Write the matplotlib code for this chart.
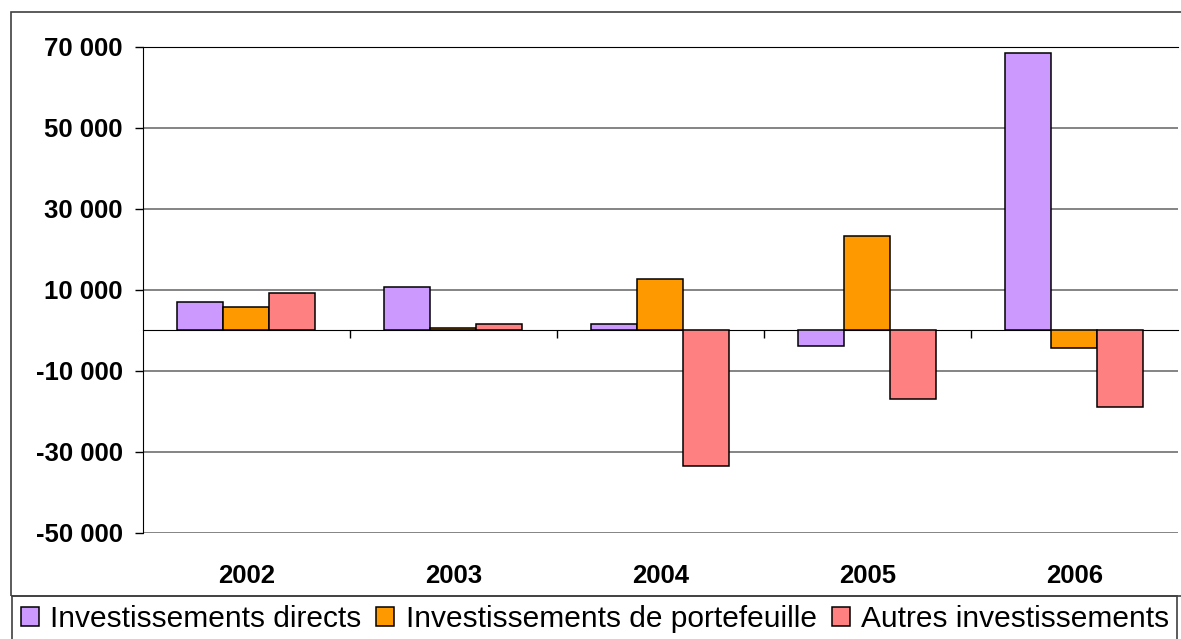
import matplotlib
matplotlib.use("Agg")
import matplotlib.pyplot as plt
import numpy as np
from matplotlib.patches import Rectangle
from matplotlib.ticker import FixedLocator, FuncFormatter

# Données
annees = ["2002", "2003", "2004", "2005", "2006"]
directs = [6900, 10800, 1600, -3900, 68400]
portefeuille = [5800, 700, 12800, 23200, -4300]
autres = [9200, 1600, -33500, -17000, -18900]
series = ["Investissements directs", "Investissements de portefeuille",
          "Autres investissements"]
couleurs = ["#CC99FF", "#FF9900", "#FF8080"]
graduations = [-50000, -30000, -10000, 10000, 30000, 50000, 70000]

plt.rcParams['font.family'] = ['Liberation Sans', 'DejaVu Sans']

fig = plt.figure(figsize=(11.81, 6.39), dpi=100)
ax = fig.add_axes([142.7 / 1181, 1 - 533 / 639, 1035 / 1181, 486.3 / 639])

x = np.arange(len(annees))
largeur = 1 / 4.5
for k, (valeurs, nom, coul) in enumerate(zip([directs, portefeuille, autres],
                                             series, couleurs)):
    ax.bar(x + (k - 1) * largeur, valeurs, largeur, color=coul,
           edgecolor="black", linewidth=1.1, label=nom, zorder=3)

ax.set_xlim(-0.5, len(annees) - 0.5)
ax.set_ylim(-50000, 70000)

# Axe des ordonnées
ax.yaxis.set_major_locator(FixedLocator(graduations))
ax.yaxis.set_major_formatter(FuncFormatter(lambda v, p: f"{v:,.0f}".replace(",", " ")))
ax.tick_params(axis="y", direction="out", length=6, width=1, pad=8.5,
               labelsize=18.5)
for lab in ax.get_yticklabels():
    lab.set_fontweight("bold")
ax.grid(axis="y", color="#707070", linewidth=1.2, zorder=0)

# Axe des abscisses à zéro, graduations entre les catégories
ax.spines["bottom"].set_position(("data", 0))
ax.spines["right"].set_visible(False)
ax.spines["top"].set_color("black")
ax.set_xticks(x[:-1] + 0.5)
ax.set_xticklabels([])
ax.tick_params(axis="x", direction="out", length=6, width=1)
for i, an in enumerate(annees):
    ax.text(i, -0.088, an, transform=ax.get_xaxis_transform(), ha="center",
            va="center", fontsize=18.5, fontweight="bold")

# Cadres
fig.patches.append(Rectangle((11 / 1181, 1 - 596 / 639), 1.2, 584 / 639,
                             transform=fig.transFigure, fill=False,
                             edgecolor="#404040", linewidth=1.2))
fig.patches.append(Rectangle((12 / 1181, -0.1), 1165 / 1181, 0.1 + 43 / 639,
                             transform=fig.transFigure, fill=False,
                             edgecolor="#404040", linewidth=1.2))

fig.legend(loc="center left", bbox_to_anchor=(21 / 1181, 1 - 619 / 639),
           ncol=3, frameon=False, fontsize=21.5, handlelength=0.6,
           handleheight=0.6, handletextpad=0.38, columnspacing=0.5,
           borderpad=0, borderaxespad=0)

fig.savefig("out.png", dpi=100)
